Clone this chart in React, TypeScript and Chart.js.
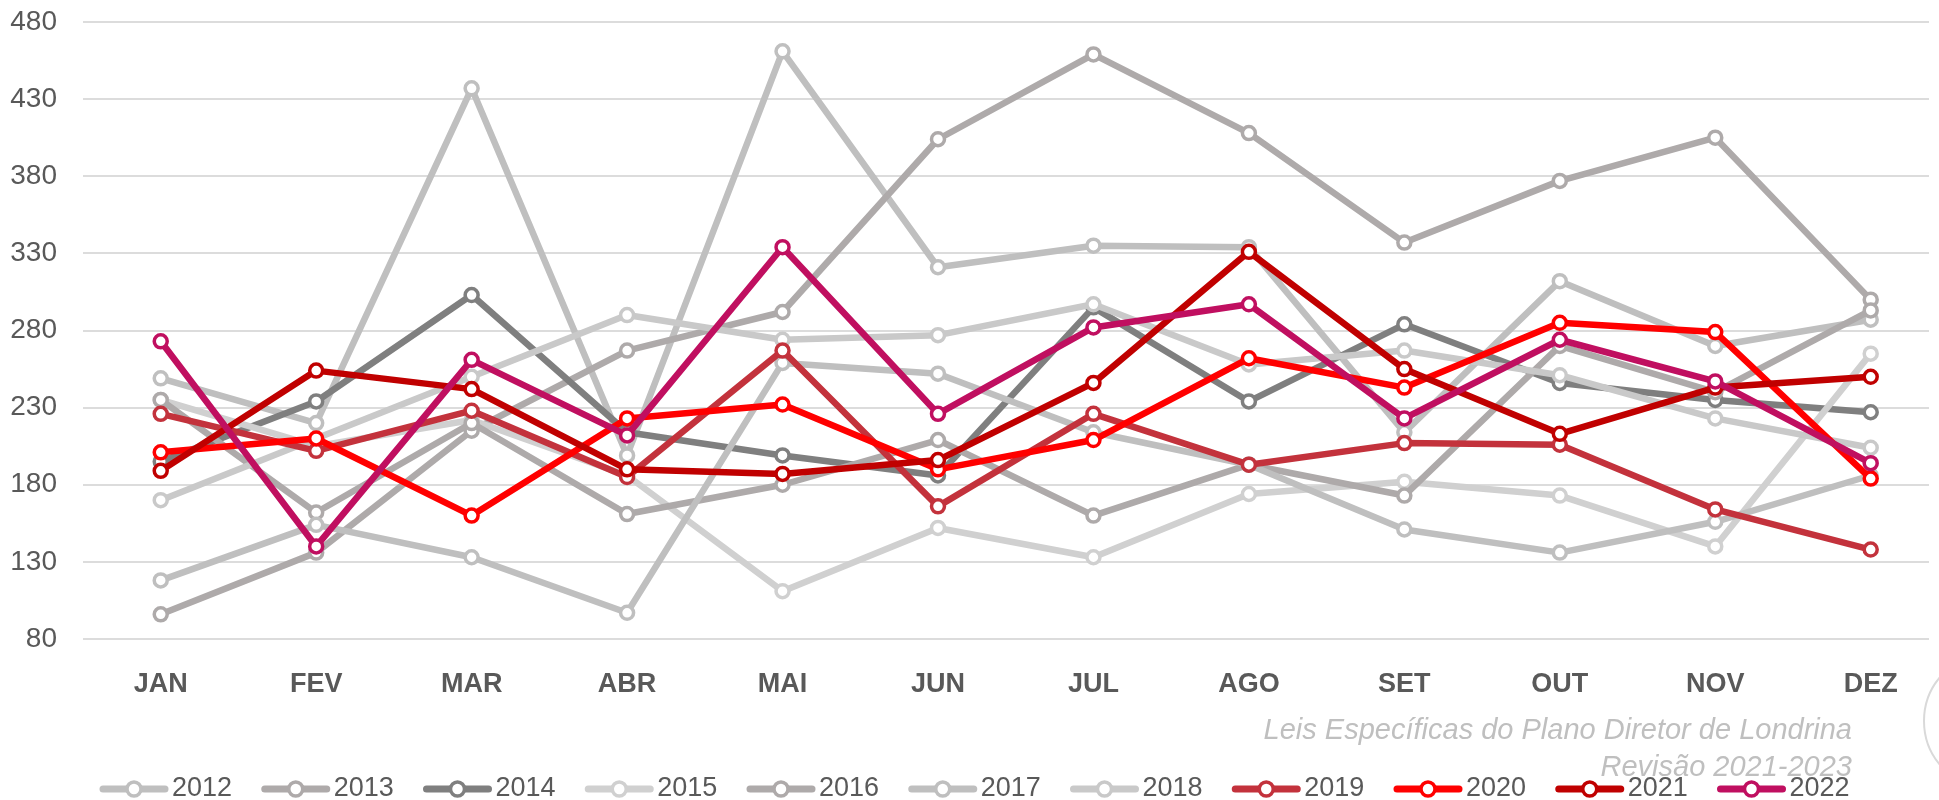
import React, { useEffect, useRef } from "react";
import { Chart, registerables } from "chart.js";

Chart.register(...registerables);

const MONTHS = ["JAN", "FEV", "MAR", "ABR", "MAI", "JUN", "JUL", "AGO", "SET", "OUT", "NOV", "DEZ"];
const YEARS = ["2012", "2013", "2014", "2015", "2016", "2017", "2018", "2019", "2020", "2021", "2022"];
const Y_TICKS = [80, 130, 180, 230, 280, 330, 380, 430, 480];

const V2012 = [249, 220, 437, 199, 461, 321, 335, 334, 214, 312, 270, 287];
const V2013 = [96, 136, 215, 267, 292, 404, 459, 408, 337, 377, 405, 300];
const V2014 = [195, 234, 303, 214, 199, 186, 295, 234, 284, 246, 235, 227];
const V2015 = [235, 205, 222, 186, 111, 152, 133, 174, 182, 173, 140, 265];
const V2016 = [235, 162, 220, 161, 180, 209, 160, 193, 173, 270, 240, 293];
const V2017 = [118, 154, 133, 97, 259, 252, 214, 193, 151, 136, 156, 186];
const V2018 = [170, 210, 250, 290, 274, 277, 297, 258, 267, 251, 223, 204];
const V2019 = [226, 202, 228, 185, 267, 166, 226, 193, 207, 206, 164, 138];
const V2020 = [201, 210, 160, 223, 232, 190, 209, 262, 243, 285, 279, 184];
const V2021 = [189, 254, 242, 190, 187, 196, 246, 331, 255, 213, 243, 250];
const V2022 = [273, 140, 261, 212, 334, 226, 282, 297, 223, 274, 247, 194];

const SERIES = [V2012, V2013, V2014, V2015, V2016, V2017, V2018, V2019, V2020, V2021, V2022];

const COLORS = [
  "#bfbfbf", "#aeaaaa", "#7f7f7f", "#d0d0d0", "#aeaaaa", "#bfbfbf", "#c9c9c9",
  "#c3323c", "#ff0000", "#c00000", "#c00f60",
];

const CAPTION = ["Leis Específicas do Plano Diretor de Londrina", "Revisão 2021-2023"];

const FONT = '"Liberation Sans", Arial, sans-serif';

const overlayPlugin = {
  id: "overlay",
  afterDraw(chart: any) {
    const ctx = chart.ctx as CanvasRenderingContext2D;
    const area = chart.chartArea;
    ctx.save();
    // caption
    ctx.fillStyle = "#bfbfbf";
    ctx.font = `italic 29px ${FONT}`;
    ctx.textAlign = "right";
    ctx.textBaseline = "middle";
    ctx.fillText(CAPTION[0], 1852, area.bottom + 92);
    ctx.fillText(CAPTION[1], 1852, area.bottom + 129);

    // legend
    const ly = area.bottom + 150;
    const startX = 99;
    const step = 161.75;
    const symW = 70;
    ctx.font = `27px ${FONT}`;
    ctx.textAlign = "left";
    chart.data.datasets.forEach((ds: any, i: number) => {
      const x0 = startX + i * step;
      ctx.strokeStyle = ds.borderColor;
      ctx.lineWidth = 7;
      ctx.lineCap = "round";
      ctx.beginPath();
      ctx.moveTo(x0 + 4, ly);
      ctx.lineTo(x0 + symW - 4, ly);
      ctx.stroke();
      ctx.beginPath();
      ctx.arc(x0 + symW / 2, ly, 7, 0, Math.PI * 2);
      ctx.fillStyle = "#ffffff";
      ctx.fill();
      ctx.lineWidth = 3.5;
      ctx.stroke();
      ctx.fillStyle = "#595959";
      ctx.fillText(ds.label, x0 + symW + 3, ly);
    });

    // logo fragment at right edge
    ctx.strokeStyle = "#d9d9d9";
    ctx.lineWidth = 2;
    ctx.beginPath();
    ctx.arc(1992, area.bottom + 82, 68, 0, Math.PI * 2);
    ctx.stroke();
    ctx.restore();
  },
};

export default function App() {
  const canvasRef = useRef<HTMLCanvasElement | null>(null);

  useEffect(() => {
    document.body.style.margin = "0";
    const canvas = canvasRef.current;
    if (!canvas) return;

    const datasets = SERIES.map((vals, i) => ({
      label: YEARS[i],
      data: vals.map((y, x) => ({ x, y })),
      borderColor: COLORS[i],
      backgroundColor: COLORS[i],
      borderWidth: 6.5,
      pointRadius: 6.5,
      pointBorderWidth: 3.5,
      pointBackgroundColor: "#ffffff",
      pointBorderColor: COLORS[i],
      borderJoinStyle: "round" as const,
      borderCapStyle: "round" as const,
      tension: 0,
      clip: false as any,
      order: SERIES.length - 1 - i,
    }));

    const chart = new Chart(canvas, {
      type: "line",
      data: { datasets },
      plugins: [overlayPlugin],
      options: {
        responsive: false,
        animation: false,
        events: [],
        layout: { padding: { top: 22, left: 0, right: 0, bottom: 0 } },
        plugins: {
          legend: { display: false },
          tooltip: { enabled: false },
          title: { display: false },
        },
        scales: {
          x: {
            type: "linear",
            min: -0.5,
            max: 11.375,
            grid: { display: false, drawTicks: false },
            border: { display: false },
            afterBuildTicks: (scale: any) => {
              scale.ticks = MONTHS.map((_, i) => ({ value: i }));
            },
            afterFit: (scale: any) => {
              scale.height = 161;
              scale.paddingLeft = 0;
              scale.paddingRight = 0;
            },
            ticks: {
              autoSkip: false,
              maxRotation: 0,
              padding: 29,
              color: "#595959",
              font: { family: FONT, size: 27, weight: "bold" },
              callback: (v: any) => MONTHS[Math.round(Number(v))] ?? "",
            },
          },
          y: {
            type: "linear",
            min: Y_TICKS[0],
            max: Y_TICKS[Y_TICKS.length - 1],
            grid: { color: "#dcdcdc", lineWidth: 2, drawTicks: false },
            border: { display: false },
            afterFit: (scale: any) => {
              scale.width = 83;
              scale.paddingTop = 0;
              scale.paddingBottom = 0;
            },
            ticks: {
              stepSize: Y_TICKS[1] - Y_TICKS[0],
              padding: 26,
              color: "#595959",
              font: { family: FONT, size: 28 },
            },
          },
        },
      },
    } as any);

    return () => {
      chart.destroy();
    };
  }, []);

  return (
    <div style={{ width: 1939, height: 800, overflow: "hidden" }}>
      <canvas ref={canvasRef} width={1939} height={800} style={{ display: "block" }} />
    </div>
  );
}
